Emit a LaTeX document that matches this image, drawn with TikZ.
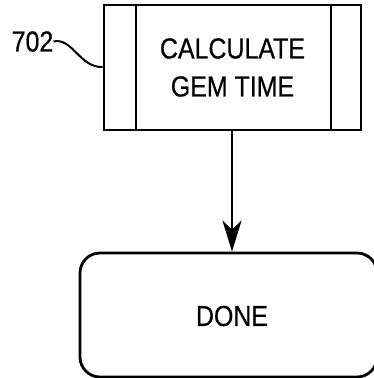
\documentclass[tikz,border=0pt]{standalone}
\usepackage{fontspec}
\setmainfont{Liberation Sans}[FakeStretch=0.86, FakeBold=0.5]
\usetikzlibrary{arrows.meta}
\tikzset{
  line/.style={line width=2.8pt},
  txt/.style={font=\fontsize{29}{38}\selectfont, inner sep=0pt, align=center},
  procbox/.style={line, draw, rectangle, txt,
    minimum width=257pt, minimum height=125pt},
  endbox/.style={line, draw, rectangle, rounded corners=20pt, inner sep=0pt,
    minimum width=297pt, minimum height=124pt},
  flow/.style={line, -{Stealth[length=31pt, width=19pt, inset=9pt]}},
}
\begin{document}
\begin{tikzpicture}[x=1pt, y=-1pt]
  \useasboundingbox (0,0) rectangle (373,378);
  % predefined process box with side bars
  \node[procbox] (calc) at (232.5,67.5) {CALCULATE\\GEM TIME};
  \draw[line] (136,5) -- (136,130) (331,5) -- (331,130);
  % reference numeral with leader
  \node[txt] (ref) at (32.5,41.5) {702};
  \draw[line width=2pt] (ref.east) .. controls (72,37) and (80,68) .. (calc.west |- 0,67);
  % terminal box
  \node[endbox] (done) at (228.5,315) {};
  \node[txt] (donetext) at (232,316) {DONE};
  \draw[flow] (calc.south -| 232,0) -- (done.north -| 232,0);
\end{tikzpicture}
\end{document}
